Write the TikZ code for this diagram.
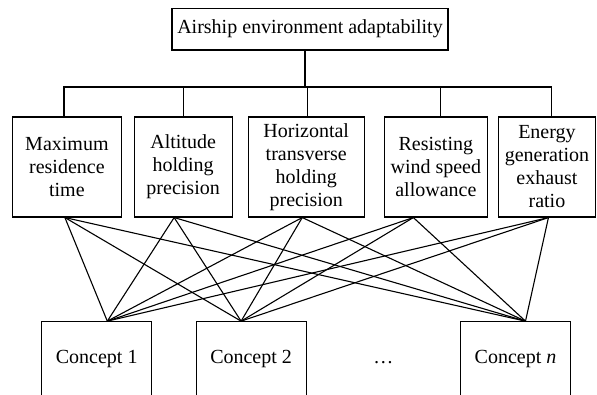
\documentclass[tikz,border=0pt]{standalone}
\usepackage{fontspec}
\setmainfont{Liberation Serif}
\usetikzlibrary{positioning,calc}
\tikzset{
    %Define style for the top box
    goalbox/.style={
           rectangle,
           draw=black, line width=1.1pt,
           minimum width=276pt,
           minimum height=41.7pt,
           font=\fontsize{20}{23}\selectfont,
           text centered},
    %Define style for the criteria boxes
    critbox/.style={
           rectangle,
           draw=black, line width=1.1pt,
           minimum height=100pt,
           inner sep=2pt,
           font=\fontsize{20}{23}\selectfont,
           align=center},
    %Define style for the concept boxes
    conceptbox/.style={
           rectangle,
           draw=black, line width=1.1pt,
           minimum width=110pt,
           minimum height=75pt,
           font=\fontsize{20}{23}\selectfont,
           text centered},
    % Define link style
    link/.style={
           line width=1.1pt}
}

\begin{document}
\begin{tikzpicture}[x=1pt,y=1pt,node distance=12pt]
\useasboundingbox (0,0) rectangle (597,394);
 %nodes
\node[goalbox](goal) at (310,364.8){Airship environment adaptability};
\node[critbox, minimum width=108.3pt](m1) at (66.9,227){Maximum\\residence\\time};
\node[critbox, minimum width=98pt, right=12pt of m1](m2){Altitude\\holding\\precision};
\node[critbox, minimum width=116pt, right=15pt of m2](m3){Horizontal\\transverse\\holding\\precision};
\node[critbox, minimum width=103pt, right=19pt of m3](m4){Resisting\\wind speed\\allowance};
\node[critbox, minimum width=97pt, right=10pt of m4](m5){Energy\\generation\\exhaust\\ratio};
\node[conceptbox](c1) at (96.7,34.8){Concept 1};
\node[conceptbox, right=43.3pt of c1](c2){Concept 2};
\node[conceptbox, right=153.3pt of c2](cn){Concept \textit{n}};
\node[font=\fontsize{20}{23}\selectfont, anchor=base](dots) at ($(c2.base)!.5!(cn.base)$){\dots};
 %tree
\coordinate (bus) at (305,307);
\draw[link] (bus) -- (bus |- goal.south);
\draw[link] ([xshift=-2.9pt]m1.north) |- (bus) -| ([xshift=4.5pt]m5.north);
\draw[link] (m2.north) |- (bus);
\draw[link] ([xshift=1pt]m3.north) |- (bus);
\draw[link] ([xshift=4.5pt]m4.north) |- (bus);
 %links
\path[every edge/.style={draw, link}]
   ([xshift=-2pt]m1.south) edge ([xshift=10.6pt]c1.north) edge ([xshift=-10pt]c2.north) edge ([xshift=10pt]cn.north)
   ([xshift=-9pt]m2.south) edge ([xshift=10.6pt]c1.north) edge ([xshift=-10pt]c2.north) edge ([xshift=10pt]cn.north)
   ([xshift=-4pt]m3.south) edge ([xshift=10.6pt]c1.north) edge ([xshift=-10pt]c2.north) edge ([xshift=10pt]cn.north)
   ([xshift=-22.5pt]m4.south) edge ([xshift=10.6pt]c1.north) edge ([xshift=-10pt]c2.north) edge ([xshift=10pt]cn.north)
   ([xshift=1.5pt]m5.south) edge ([xshift=10.6pt]c1.north) edge ([xshift=-10pt]c2.north) edge ([xshift=10pt]cn.north);
\end{tikzpicture}
\end{document}
